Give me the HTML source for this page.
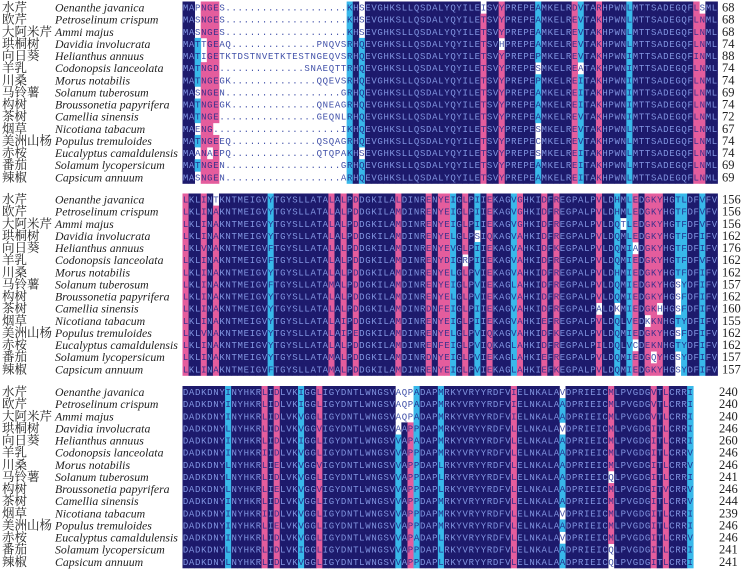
<!DOCTYPE html>
<html><head><meta charset="utf-8">
<style>
html,body{margin:0;padding:0;background:#fff;}
svg{display:block;}
</style></head>
<body>
<svg id="fig" width="742" height="573" viewBox="0 0 742 573" xmlns="http://www.w3.org/2000/svg"></svg>
<script>
// ---- data ----
const cnNames = ["水芹","欧芹","大阿米芹","珙桐树","向日葵","羊乳","川桑","马铃薯","构树","茶树","烟草","美洲山杨","赤桉","番茄","辣椒"];
const latinNames = ["Oenanthe javanica","Petroselinum crispum","Ammi majus","Davidia involucrata","Helianthus annuus","Codonopsis lanceolata","Morus notabilis","Solanum tuberosum","Broussonetia papyrifera","Camellia sinensis","Nicotiana tabacum","Populus tremuloides","Eucalyptus camaldulensis","Solamum lycopersicum","Capsicum annuum"];
const endNums1 = [68,68,68,74,88,74,74,69,74,72,67,74,74,69,69];
const endNums2 = [156,156,156,162,176,162,162,157,162,160,155,162,162,157,157];
const endNums3 = [240,240,240,246,260,246,246,241,246,244,239,246,246,241,241];

const b1Left = [
"MApNGES....................KHs",
"MAsNGES....................KHs",
"MAsNGES....................KHs",
"MATtGEAQ..............PNQVSRHQ",
"MATiGETKTDSTNVETKTESTNGEQVSRHQ",
"MATNGD..............SNAEQTTRHQ",
"MATNGEGK..............QQEVSRHQ",
"MAsNGEN...................GRHQ",
"MATNGEGK..............QNEAGRHQ",
"MATNGE................GEQNLRHQ",
"MAeNG.....................IKHQ",
"MATNGEEQ..............QSQAGRHQ",
"MAaNaEPQ..............QTQPAKHs",
"MATNGEN...................GRHQ",
"MAsNGEN...................ARHQ"];
const b1Var = ["iYADVRLLs","TYAEVKLLN","TYAEVKLLN","ThAEVKLLN","TYPEVKIIN","TYsEaKILN","TYPEIKILN","TYAEIKILN","TYAEIKILN","TYAEVKILN","TYsEVKLLN","TYcEVKLLN","TYsEIKLLN","TYAEIKLLN","TYAEIKLLN"];
const b1Cols = "NNXPPP---------------------CNCNNNNNNNNNNNNNNNNNNNPNNPNNNNNCNNNNNPCNNPNNNNCNNNNNNNNNNPPNN";

const b2Left = [
"LKLINtKNTMEIGVYTGYSLLATALALPDDGKILALDINRENYEI",
"LKLINAKNTMEIGVYTGYSLLATALALPDDGKILAMDINRENYEI",
"LKLINAKNTMEIGVYTGYSLLATALALPDDGKILAMDINRENYEI",
"LKLINAKNTMEIGVYTGYSLLATALALPDDGKILAMDINRENYEL",
"LKLVNAKNTMEIGVFTGYSLLATALALPDDGKILAMDINRENYEV",
"LKLINAKNTMEIGVFTGYSLLATALALPDDGKILAMDINRENYDI",
"LKLINAKNTMEIGVYTGYSLLATALALPDDGKILAMDINRENYEL",
"LKLINAKNTMEIGVFTGYSLLATAMALPDDGKILAMDINRENYEI",
"LKLINAKNTMEIGVYTGYSLLATALALPDDGKILAMDINRENYEL",
"LKLINAKNTMEIGVYTGYSLLATALALPDDGKILAMDINRDNFEI",
"LKLINAKNTMEIGVYTGYSLLATALAIPDDGKILAMDINRENYEI",
"LKLVNAKNTMEIGVYTGYSLLATALAIPEDGKILAMDINRENYEL",
"LKLINAKNTMEIGVYTGYSLLATALALPDDGKILAMDINRENFEI",
"LKLINAKNTMEIGVYTGYSLLATAMALPDDGKILAMDINRDNYEI",
"LKLINAKNTMEIGVFTGYSLLATAMALPDDGKILAMDINRENYEI"];
const b2Right = [
"GLPIIEKAGVGHKIDFREGPALPVLDHMLEDGKYHGTLDFVFV",
"GLPIIEKAGVGHKIDFREGPALPVLDHMLEDGKYHGTFDFVFV",
"GLPIIEKAGVGHKIDFREGPALPVLDQtLEDGKYHGTFDFVFV",
"GLPsIQKAGVAHKIDFREGPALPVLDQMLEDGKYHGTFDFIFV",
"GLPIIEKAGVAHKIDFKEGPALPVLDQMIaDGKYHGTFDFIFV",
"GrPIIEKAGVAHKIDFREGPALPVLDQMIEDGKYHGTFDFVFV",
"GLPVIEKAGVAHKIDFREGPALPVLDHMIEDGKYHGTFDFIFV",
"GLPVIEKAGLAHKIDFREGPALPVLDQMIEDGKYHGsYDFIFV",
"GLPVIEKAGVAHKIDFREGPALPVLDQMIEDGKYHGsFDFIFV",
"GLPIIEKAGVAHKIDFREGPALPaLDkMIEDGKhHGsFDFIFV",
"GLPIIEKAGVAHKIEFREGPALPVLDQLVEDkKNHGTYDFIFV",
"GLPVIQKAGVAHKIDFKEGPALPVLDQMIEDGKYHGsFDFIFV",
"GLPVIQKAGLAHKIDFREGPALPILDQLVcDEKNHGTYDFIFV",
"GLPVIEKAGLAHKIEFREGPALPVLDQMIEDGqYHGsYDFIFV",
"GLPVIEKAGLAHKIEFKEGPALPVLDQMIEDGKYHGsYDFIFV"];
const b2Cols = "PNNPNPNNNNNNNNCNNNNNNNNNPNPNPNNNNNNPNNNNPNPPCNPNCNPNNNCPNNNPNPNNNNNNPNNCNCPNPPPNNCCNNCNN";

const b3Var = [
"ILDILaqpAMIvMVLI","ILDILaqpAMIAMVLI","ILDVLaqpAMIAMVLI","LLDVVaAPPMLvMILI",
"ILDILVAPAMLAMILI","IIDVLVAPPMLAMILV","LLEVVVAPPLLAMILV","LLDVLVAPPLLAqILI",
"LLEVVVAPPLLAMIVV","ILDVLVAPPMLAMILV","IIDVLVAPPMLvMILI","ILEVLVAPPMLAMILI",
"ILDVLVAPALLvMILV","LLDILVAPPLLAqILI","LLDVLVAPPLLAqILI"];
const b3Cols = "NNNNNNNCNNNNNPNPNNNCNNPNNNNNNNNNNNNCNPCNNNCNNNNNNNNNNNPNNNNNNNCNNNNNNNPNNNNNNPNPNNNC";

// ---- build sequences ----
function fill(tpl, vars){ let k=0; return tpl.replace(/\?/g, ()=>vars[k++]); }
const b1Tpl = "EVGHKSLLQSDALYQYILE?SV?PREPE?MKELR??TA?HPWN?MTTSADEGQF??ML";
const b3Tpl = "DADKDNY?NYHKR?I?LVK?GG?IGYDNTLWNGSV????DAP?RKYVRYYRDFV?ELNKALA?DPRIEIC?LPVGDG?T?CRR?";
const block1 = b1Left.map((l,i)=> l + fill(b1Tpl, b1Var[i]));
const block2 = b2Left.map((l,i)=> l + b2Right[i]);
const block3 = b3Var.map(v=> fill(b3Tpl, v));

// ---- render ----
const NS = "http://www.w3.org/2000/svg";
const svg = document.getElementById('fig');
const X0 = 182.5, CW = 6.08, RH = 12.13;
const blockTops = [1.5, 193.5, 386];
const COL = {N:"#1d1a6c", P:"#e45d9d", C:"#38b8ea"};
const TXT = {N:"#8296e2", P:"#3b2f8c", C:"#24308e", W:"#3f4fa8"};
function mk(tag, attrs, parent){ const e=document.createElementNS(NS,tag); for(const k in attrs) e.setAttribute(k,attrs[k]); (parent||svg).appendChild(e); return e; }

function drawBlock(seqs, cols, nums, top, bi){
  const g = mk('g',{});
  
  
  seqs.forEach((s,r)=>{
    const y = top + r*RH;
    const cn = mk('text',{x:2, y:y+10, 'font-size':12.5, 'font-family':'"Noto Serif CJK SC","Noto Sans CJK SC",serif', fill:'#222'}, g);
    cn.textContent = cnNames[r];
    
    
    const la = mk('text',{x:55, y:y+10, 'font-size':11.8, 'font-style':'italic', 'font-family':'"Liberation Serif",serif', fill:'#222'}, g);
    la.textContent = latinNames[r];
    
    
    for(let c=0;c<s.length;c++){
      const ch = s[c];
      let code = cols[c] || '-';
      const lower = ch !== ch.toUpperCase();
      if(code==='X') code = (ch==='T') ? 'C' : 'N';
      if(ch==='.' || lower || code==='-') code = 'W';
      const x = X0 + c*CW;
      if(code!=='W'){
        const rc = mk('rect',{x:x.toFixed(2), y:y.toFixed(2), width:(CW+0.35).toFixed(2), height:(RH+0.35).toFixed(2), fill:COL[code]}, g);
        
        
      }
      const t = mk('text',{x:(x+CW/2).toFixed(2), y:(y+9).toFixed(2), 'font-size':9, 'text-anchor':'middle', 'font-family':'"Liberation Mono",monospace', fill:TXT[code]}, g);
      t.textContent = ch.toUpperCase();
    }
    const n = mk('text',{x:(bi===2?719:722), y:y+10, 'font-size':12.5, 'font-family':'"Liberation Serif",serif', fill:'#222'}, g);
    n.textContent = nums[r];
    
    
  });
}
drawBlock(block1, b1Cols, endNums1, blockTops[0], 0);
drawBlock(block2, b2Cols, endNums2, blockTops[1], 1);
drawBlock(block3, b3Cols, endNums3, blockTops[2], 2);
</script>
</body></html>
